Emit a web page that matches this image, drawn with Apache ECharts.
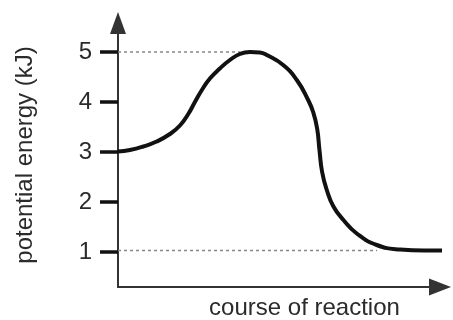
<!DOCTYPE html>
<html><head><meta charset="utf-8">
<script src="https://cdn.jsdelivr.net/npm/echarts@6/dist/echarts.min.js"></script>
<style>html,body{margin:0;padding:0;background:#fff}#c{width:453px;height:320px}</style>
</head><body><div id="c"></div>
<script>
const yTicks = [1, 2, 3, 4, 5];
const courseX = [0, 3.6, 7.6, 11.6, 15.6, 18.6, 21.1, 23.1, 25.1, 27.6, 30.6, 33.6, 36.6, 39.6, 42.6, 44.7, 49.6, 53.7, 57.1, 58.6, 59.8, 60.5, 61.3, 62.7, 64.7, 67.7, 71.7, 77.7, 84.7, 92, 100];
const energy = [3.01, 3.04, 3.11, 3.21, 3.36, 3.53, 3.76, 4.0, 4.23, 4.47, 4.67, 4.84, 4.96, 5.0, 4.99, 4.94, 4.74, 4.44, 4.04, 3.8, 3.47, 3.04, 2.6, 2.24, 1.91, 1.64, 1.37, 1.14, 1.05, 1.03, 1.03];
const peakGuideX = [0, 36.6];
const peakGuideY = [5, 5];
const productGuideX = [0, 77.8];
const productGuideY = [1.03, 1.03];
const yTitle = 'potential energy (kJ)';
const xTitle = 'course of reaction';

const font = '"Liberation Sans", Arial, sans-serif';
const chart = echarts.init(document.getElementById('c'), null, {renderer: 'canvas'});
chart.setOption({
  animation: false,
  grid: {left: 118, right: 13, top: 23, bottom: 33, outerBoundsMode: 'none'},
  xAxis: {
    type: 'value', min: 0, max: 96.7,
    axisLine: {show: true, symbol: ['none', 'triangle'], symbolSize: [17, 22], lineStyle: {color: '#333', width: 2}},
    axisTick: {show: false}, axisLabel: {show: false}, splitLine: {show: false},
    name: xTitle, nameLocation: 'middle', nameGap: 9,
    nameTextStyle: {fontFamily: font, fontSize: 24, color: '#2b2b2b', padding: [0, 0, 0, 51], verticalAlign: 'top'}
  },
  yAxis: {
    type: 'value', min: 0.3, max: 5.58,
    axisLine: {show: true, symbol: ['none', 'triangle'], symbolSize: [16, 22], lineStyle: {color: '#333', width: 2}},
    axisTick: {show: true, customValues: yTicks, length: 18, lineStyle: {color: '#111', width: 3.5}},
    axisLabel: {show: true, customValues: yTicks, margin: 26, fontFamily: font, fontSize: 24, color: '#2b2b2b'},
    splitLine: {show: false},
    name: yTitle, nameLocation: 'middle', nameGap: 81,
    nameTextStyle: {fontFamily: font, fontSize: 24, color: '#2b2b2b'}
  },
  series: [
    {type: 'line', data: peakGuideX.map((x, i) => [x, peakGuideY[i]]), symbol: 'none', silent: true,
     lineStyle: {color: '#888', width: 1.5, type: [3, 3]}},
    {type: 'line', data: productGuideX.map((x, i) => [x, productGuideY[i]]), symbol: 'none', silent: true,
     lineStyle: {color: '#888', width: 1.5, type: [3, 3]}},
    {type: 'line', data: courseX.map((x, i) => [x, energy[i]]), symbol: 'none', smooth: 0.5, clip: false,
     lineStyle: {color: '#111', width: 4}}
  ]
});
</script></body></html>
